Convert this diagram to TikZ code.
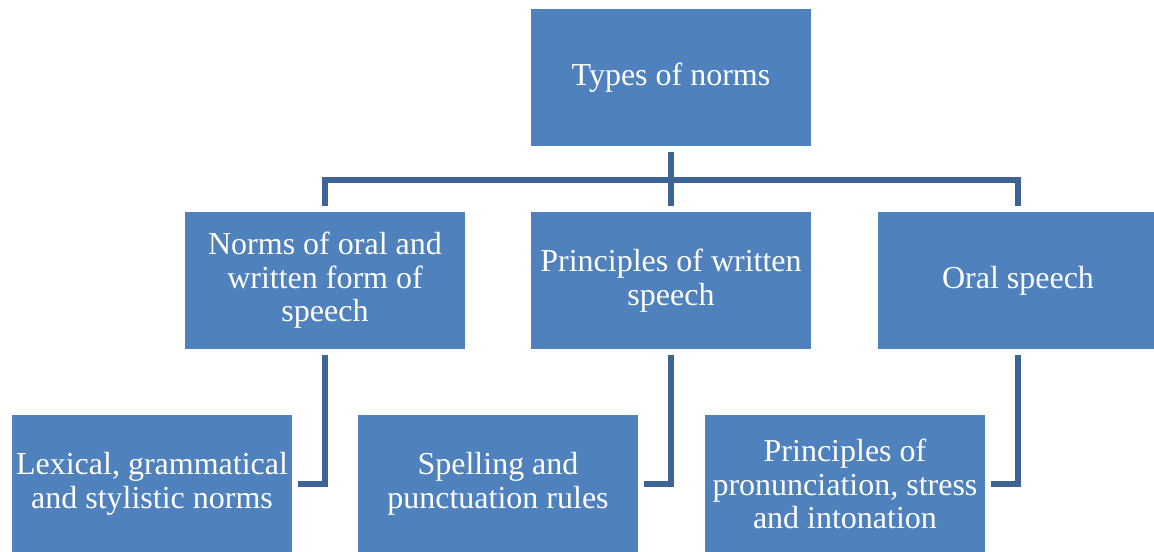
\documentclass[tikz,border=0pt]{standalone}
\usepackage{fontspec}
\setmainfont{Liberation Serif}
\definecolor{boxblue}{RGB}{79,129,189}
\definecolor{lineblue}{RGB}{62,100,150}

\begin{document}
\begin{tikzpicture}[x=0.75pt,y=-0.75pt,
		normbox/.style={rectangle,fill=boxblue,text=white,minimum width=210pt,minimum height=102.75pt,
			inner sep=0pt,outer sep=0pt,align=center,font=\fontsize{24}{25.2}\selectfont},
		conn/.style={draw=lineblue,line width=3.8pt}]
					\clip (0,0) rectangle (1154,552);
					\fill[white] (0,0) rectangle (1154,552);
					
					\node[normbox] (types) at (671,78) {Types of norms};
					\node[normbox] (oralwritten) at (325,280.5) {Norms of oral and\\written form of\\speech};
					\node[normbox] (written) at (671,280.5) {Principles of written\\speech};
					\node[normbox] (oral) at (1018,280.5) {Oral speech};
					
					\node[normbox] (lexical) at (152,484) {Lexical, grammatical\\and stylistic norms};
					\node[normbox] (spelling) at (498,484) {Spelling and\\punctuation rules};
					\node[normbox] (pronun) at (845,484) {Principles of\\pronunciation, stress\\and intonation};
					
					\coordinate (hub) at (671,180);
					\draw[conn] ([yshift=-4.5pt]types.south) -- (hub);
					\draw[conn] ([yshift=4.5pt]oralwritten.north) |- (hub) -| ([yshift=4.5pt]oral.north);
					\draw[conn] (hub) -- ([yshift=4.5pt]written.north);
					
					\draw[conn] ([yshift=-4.5pt]oralwritten.south) |- ([xshift=4.5pt]lexical.east);
					\draw[conn] ([yshift=-4.5pt]written.south) |- ([xshift=4.5pt]spelling.east);
					\draw[conn] ([yshift=-4.5pt]oral.south) |- ([xshift=4.5pt]pronun.east);
				\end{tikzpicture}
\end{document}
